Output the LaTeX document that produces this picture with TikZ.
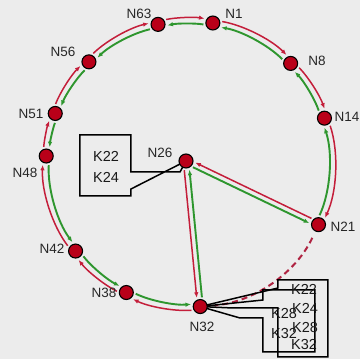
\documentclass[tikz,border=0pt]{standalone}
\usepackage{fontspec}
\setmainfont{Liberation Sans}
\usetikzlibrary{arrows.meta,calc}
\pgfdeclarelayer{back}
\pgfdeclarelayer{bg}
\pgfsetlayers{back,bg,main}
\definecolor{bgc}{RGB}{236,236,236}
\definecolor{rline}{RGB}{196,30,58}
\definecolor{gline}{RGB}{46,150,46}
\definecolor{nodefill}{RGB}{185,0,25}
\definecolor{dline}{RGB}{175,35,65}
\tikzset{
  peer/.style={circle, fill=nodefill, draw=black, line width=1.1pt, minimum size=14pt, inner sep=0pt},
  lbl/.style={font=\fontsize{13.5}{15}\selectfont, text=black!85, inner sep=0pt},
  ktxt/.style={font=\fontsize{14.5}{16}\selectfont, text=black!90, inner sep=0pt},
  redarc/.style={rline, line width=1.5pt, -{Latex[length=5.5pt,width=4.5pt]}, shorten >=9pt, shorten <=9pt, looseness=0.87},
  greenarc/.style={gline, line width=1.9pt, -{Latex[length=5.5pt,width=4.5pt]}, shorten >=9pt, shorten <=9pt, looseness=0.87},
  dasharc/.style={dline, line width=2pt, dash pattern=on 6pt off 4pt, shorten >=7pt, shorten <=7pt, looseness=0.9},
  callout/.style={draw=black, line width=1.5pt, line join=miter}
}
\begin{document}
\begin{tikzpicture}[x=1pt,y=1pt]
\begin{pgfonlayer}{back}
  \fill[bgc] (0,0) rectangle (360,359);
\end{pgfonlayer}
\useasboundingbox (0,0) rectangle (360,359);
\coordinate (C) at (189,195);

% ring peers
\foreach \n/\a in {63/102.5, 1/80.4, 8/44.7, 14/18.7, 21/-25.1, 32/-85.5, 38/-116, 42/-142.5, 48/-183.2, 51/-200.7, 56/-225.6} {
  \node[peer] (N\n) at ([shift={(\a:143)}]C) {};
  \coordinate (O\n) at ([shift={(\a:146)}]C);
  \coordinate (I\n) at ([shift={(\a:140)}]C);
}
\node[peer] (N26) at (186,198) {};

% labels
\node[lbl] (L63) at (139,345) {N63};
\node[lbl] (L1)  at (234,345) {N1};
\node[lbl] (L8)  at (317,298) {N8};
\node[lbl] (L14) at (347,242) {N14};
\node[lbl] (L21) at (343,132) {N21};
\node[lbl] (L32) at (202,32)  {N32};
\node[lbl] (L38) at (104,66)  {N38};
\node[lbl] (L42) at (52,110)  {N42};
\node[lbl] (L48) at (25,186)  {N48};
\node[lbl] (L51) at (31,245)  {N51};
\node[lbl] (L56) at (63,307)  {N56};
\node[lbl] (L26) at (160,206) {N26};

\begin{pgfonlayer}{bg}
  % ring successor / predecessor arcs
  \foreach \p/\q/\h in {63/1/11.05, 1/8/17.85, 8/14/13, 14/21/21.9, 32/38/15.25, 38/42/13.25, 42/48/20.35, 48/51/8.75, 51/56/12.45, 56/63/15.95} {
    \draw[redarc] (O\p) to[bend left=\h] (O\q);
    \draw[greenarc] (I\q) to[bend right=\h] (I\p);
  }
  % dashed arc N21 - N32
  \draw[dasharc] (N21) to[bend left=30.2] (N32);
  % chords through N26
  \draw[redarc] ($(N21)!2.6pt!-90:(N26)$) -- ($(N26)!2.6pt!90:(N21)$);
  \draw[greenarc] ($(N26)!2.6pt!-90:(N21)$) -- ($(N21)!2.6pt!90:(N26)$);
  \draw[redarc] ($(N26)!2.6pt!-90:(N32)$) -- ($(N32)!2.6pt!90:(N26)$);
  \draw[greenarc] ($(N32)!2.6pt!-90:(N26)$) -- ($(N26)!2.6pt!90:(N32)$);

  % callouts
  \draw[callout] (80,224) -- (131,224) -- (131,187) -- (180,187) -- (N26.center) -- (131,170) -- (131,163) -- (80,163) -- cycle;
  \draw[callout] (278,79) -- (328,79) -- (328,2) -- (278,2) -- (278,51) -- (233,51) -- (N32.center) -- (278,71) -- cycle;
  \draw[callout] (263,69) -- (315,69) -- (315,7) -- (263,7) -- (263,41) -- (240,41) -- (N32.center) -- (263,59) -- cycle;
\end{pgfonlayer}

% keys
\node[ktxt] (k1a) at (106,203) {K22};
\node[ktxt] (k1b) at (106,182) {K24};
\node[ktxt] (kA1) at (304,70) {K22};
\node[ktxt] (kA2) at (305,51) {K24};
\node[ktxt] (kA3) at (305,31) {K28};
\node[ktxt] (kA4) at (304,14) {K32};
\node[ktxt] (kB1) at (284,45) {K28};
\node[ktxt] (kB2) at (284,25) {K32};
\end{tikzpicture}
\end{document}
